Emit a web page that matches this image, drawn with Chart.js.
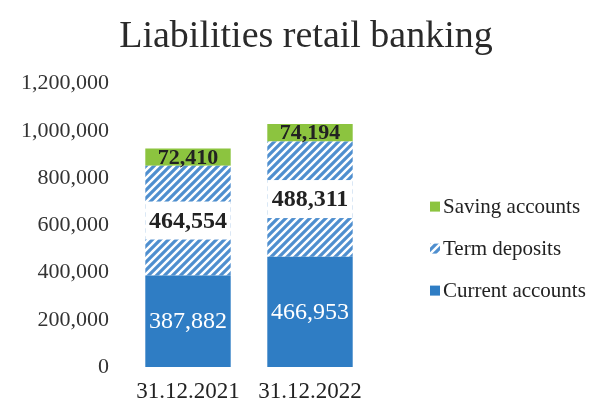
<!DOCTYPE html>
<html>
<head>
<meta charset="utf-8">
<script src="https://cdn.jsdelivr.net/npm/chart.js@4.4.1/dist/chart.umd.min.js"></script>
<style>
  html, body { margin: 0; padding: 0; background: #fff; }
</style>
</head>
<body>
<canvas id="chart" width="595" height="408"></canvas>
<script>
const categories = ['31.12.2021', '31.12.2022'];
const currentAccounts = [387882, 466953];
const termDeposits = [464554, 488311];
const savingAccounts = [72410, 74194];
const yTickValues = [0, 200000, 400000, 600000, 800000, 1000000, 1200000];

const SERIF = '"Liberation Serif", "Times New Roman", serif';
const canvas = document.getElementById('chart');
const ctx = canvas.getContext('2d');

// white tile with blue "///" stripes for term deposits
function makeHatch() {
    const tile = document.createElement('canvas');
    tile.width = 8;
    tile.height = 8;
    const g = tile.getContext('2d');
    g.fillStyle = '#ffffff';
    g.fillRect(0, 0, 8, 8);
    g.strokeStyle = '#4f8fcf';
    g.lineWidth = 3.2;
    g.beginPath();
    g.moveTo(-2, 10); g.lineTo(10, -2);
    g.moveTo(-2, 2); g.lineTo(2, -2);
    g.moveTo(6, 10); g.lineTo(10, 6);
    g.stroke();
    return ctx.createPattern(tile, 'repeat');
}

const fmt = v => v.toLocaleString('en-US');

const barLabels = {
    id: 'barLabels',
    afterDatasetsDraw(chart) {
        const c = chart.ctx;
        c.save();
        c.textAlign = 'center';
        c.textBaseline = 'middle';
        chart.data.datasets.forEach((ds, di) => {
            const meta = chart.getDatasetMeta(di);
            meta.data.forEach((bar, i) => {
                const y = (bar.y + bar.base) / 2;
                if (ds.labelBox) {
                    c.fillStyle = '#ffffff';
                    c.fillRect(bar.x - bar.width / 2, y - 19, bar.width, 38);
                }
                c.font = ds.labelFont;
                c.fillStyle = ds.labelColor;
                c.fillText(fmt(ds.data[i]), bar.x, y + 1);
            });
        });
        c.restore();
    }
};

const sideLegend = {
    id: 'sideLegend',
    afterDraw(chart) {
        const c = chart.ctx;
        const area = chart.chartArea;
        const items = [...chart.data.datasets].reverse();
        c.save();
        c.font = '21px ' + SERIF;
        c.textBaseline = 'middle';
        c.textAlign = 'left';
        items.forEach((ds, k) => {
            const x = area.right + 59;
            const y = area.top + 123 + k * 42;
            c.fillStyle = ds.backgroundColor;
            c.fillRect(x, y - 5, 10, 10);
            c.fillStyle = '#222';
            c.fillText(ds.label, x + 13, y + 1);
        });
        c.restore();
    }
};

new Chart(canvas, {
    type: 'bar',
    data: {
        labels: categories,
        datasets: [
            {
                label: 'Current accounts',
                data: currentAccounts,
                backgroundColor: '#2f7dc4',
                labelFont: '24px ' + SERIF,
                labelColor: '#ffffff'
            },
            {
                label: 'Term deposits',
                data: termDeposits,
                backgroundColor: makeHatch(),
                labelFont: 'bold 24px ' + SERIF,
                labelColor: '#222',
                labelBox: true
            },
            {
                label: 'Saving accounts',
                data: savingAccounts,
                backgroundColor: '#8cc43f',
                labelFont: 'bold 22px ' + SERIF,
                labelColor: '#222'
            }
        ]
    },
    options: {
        responsive: false,
        animation: false,
        events: [],
        categoryPercentage: 1,
        barPercentage: 0.7,
        layout: { padding: { left: 17, right: 0, top: 0, bottom: 2 } },
        plugins: {
            legend: { display: false },
            tooltip: { enabled: false },
            title: {
                display: true,
                text: 'Liabilities retail banking',
                color: '#2a2a2a',
                font: { family: SERIF, size: 38, weight: 'normal' },
                padding: { top: 14, bottom: 24 }
            }
        },
        scales: {
            x: {
                stacked: true,
                afterFit: scale => { scale.height = 39; },
                grid: { display: false, drawTicks: false },
                border: { display: false },
                ticks: { color: '#222', padding: 11, font: { family: SERIF, size: 23 } }
            },
            y: {
                stacked: true,
                min: 0,
                max: 1200000,
                afterBuildTicks: scale => {
                    scale.ticks = yTickValues.map(v => ({ value: v }));
                },
                afterFit: scale => { scale.width = 110; },
                grid: { display: false, drawTicks: false },
                border: { display: false },
                ticks: {
                    color: '#333',
                    padding: 18,
                    font: { family: SERIF, size: 22 },
                    callback: v => fmt(v)
                }
            },
            side: {
                type: 'linear',
                position: 'right',
                afterFit: scale => { scale.width = 224; },
                grid: { display: false, drawTicks: false },
                border: { display: false },
                ticks: { display: false }
            }
        }
    },
    plugins: [barLabels, sideLegend]
});
</script>
</body>
</html>
